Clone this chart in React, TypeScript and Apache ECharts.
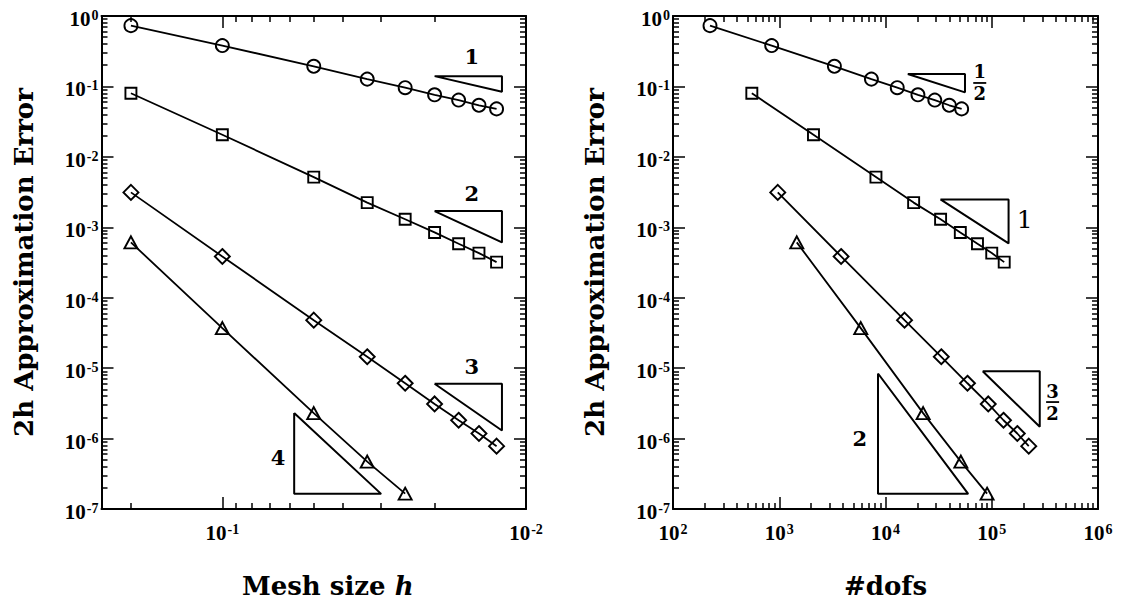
import React, { useEffect, useRef } from "react";
import * as echarts from "echarts";

// ---------- data ----------
const meshSizes = [0.2, 0.1, 0.05, 0.033333, 0.025, 0.02, 0.0166667, 0.0142857, 0.0125];
const meshSizesP4 = [0.2, 0.1, 0.05, 0.033333, 0.025];

const errCircle = [0.73, 0.38, 0.193, 0.127, 0.096, 0.076, 0.064, 0.054, 0.048];
const errSquare = [0.08, 0.0206, 0.00516, 0.00224, 0.0013, 0.000845, 0.000583, 0.00043, 0.00032];
const errDiamond = [0.00313, 0.000385, 4.8e-5, 1.45e-5, 6.1e-6, 3.1e-6, 1.82e-6, 1.18e-6, 7.8e-7];
const errTriangle = [0.00061, 3.7e-5, 2.3e-6, 4.7e-7, 1.65e-7];

const dofsCircle = [223, 849, 3304, 7370, 12900, 20200, 29100, 39800, 52100];
const dofsSquare = [552, 2100, 8130, 18400, 33000, 50600, 73400, 100000, 131000];
const dofsDiamond = [968, 3820, 15100, 33500, 59100, 92700, 129000, 174000, 223000];
const dofsTriangle = [1462, 5850, 22600, 51200, 90400];

// slope triangles (data coordinates)
const slopeLeft1 = [[0.02, 0.14], [0.012, 0.14], [0.012, 0.084], [0.02, 0.14]];
const slopeLeft2 = [[0.02, 0.0017], [0.012, 0.0017], [0.012, 0.00061], [0.02, 0.0017]];
const slopeLeft3 = [[0.02, 6e-6], [0.012, 6e-6], [0.012, 1.3e-6], [0.02, 6e-6]];
const slopeLeft4 = [[0.058, 2.3e-6], [0.058, 1.64e-7], [0.03, 1.64e-7], [0.058, 2.3e-6]];

const slopeRight1 = [[16200, 0.15], [56000, 0.15], [56000, 0.0824], [16200, 0.15]];
const slopeRight2 = [[32900, 0.00249], [144000, 0.00249], [144000, 0.00059], [32900, 0.00249]];
const slopeRight3 = [[82200, 9.06e-6], [283000, 9.06e-6], [283000, 1.47e-6], [82200, 9.06e-6]];
const slopeRight4 = [[8500, 8.4e-6], [8500, 1.64e-7], [60000, 1.64e-7], [8500, 8.4e-6]];

const slopeLabelPosLeft = [[0.01507, 0.27], [0.01507, 0.00297], [0.01507, 1.07e-5], [0.0656, 5.3e-7]];
const slopeLabelTextLeft = ["1", "2", "3", "4"];
const slopeLabelPosRight = [[77100, 0.112], [204000, 0.00131], [374000, 3.3e-6], [5730, 9.9e-7]];
const slopeLabelTextRight = ["1/2", "1", "3/2", "2"];

// ticks
const errMajorTicks = [1, 0.1, 0.01, 1e-3, 1e-4, 1e-5, 1e-6, 1e-7];
const errMinorMultipliers = [2, 3, 4, 5, 6, 7, 8, 9];
const errMinorDecades = [1e-7, 1e-6, 1e-5, 1e-4, 1e-3, 1e-2, 1e-1];
const meshMajorTicks = [0.1, 0.01];
const meshMinorTicks = [0.2, 0.09, 0.08, 0.07, 0.06, 0.05, 0.04, 0.03, 0.02];
const dofsMajorTicks = [100, 1000, 10000, 100000, 1000000];
const dofsMinorDecades = [100, 1000, 10000, 100000];

const errMinorTicks: number[] = [];
errMinorDecades.forEach((d) => errMinorMultipliers.forEach((m) => errMinorTicks.push(m * d)));
const dofsMinorTicks: number[] = [];
dofsMinorDecades.forEach((d) => errMinorMultipliers.forEach((m) => dofsMinorTicks.push(m * d)));

const zip = (xs: number[], ys: number[]) => xs.map((x, i) => [x, ys[i]]);

const TICK_FONT = "Liberation Serif";
const TITLE_FONT = "DejaVu Serif";

const powLabel = (v: number) => {
  const e = Math.round(Math.log10(v));
  return `{base|10}{sup|${e}}`;
};
const tickRich = {
  base: { fontFamily: TICK_FONT, fontWeight: "bold", fontSize: 21, lineHeight: 21, color: "#000", verticalAlign: "bottom" },
  sup: { fontFamily: TICK_FONT, fontWeight: "bold", fontSize: 14, lineHeight: 14, color: "#000", verticalAlign: "top", padding: [0, 0, 12, 1] },
};

const MAJOR_LEN = 12;
const MINOR_LEN = 6;
const FRAME_W = 2;
const TICK_W = 1.5;

function axisPair(
  gridIndex: number,
  pos: string,
  common: any,
  majors: number[],
  minors: number[],
  withLabels: boolean,
  labelMargin: number,
  labelPadding: number[]
) {
  const major = {
    ...common,
    gridIndex,
    position: pos,
    axisLine: { show: true, onZero: false, lineStyle: { color: "#000", width: FRAME_W } },
    axisTick: { show: true, inside: true, length: MAJOR_LEN, customValues: majors, lineStyle: { color: "#000", width: TICK_W } },
    axisLabel: withLabels
      ? {
          show: true,
          customValues: majors,
          formatter: powLabel,
          rich: tickRich,
          color: "#000",
          margin: labelMargin,
          padding: labelPadding,
        }
      : { show: false },
    splitLine: { show: false },
    minorTick: { show: false },
  };
  const minor = {
    ...common,
    gridIndex,
    position: pos,
    name: "",
    axisLine: { show: false, onZero: false },
    axisTick: { show: true, inside: true, length: MINOR_LEN, customValues: minors, lineStyle: { color: "#000", width: TICK_W } },
    axisLabel: { show: false },
    splitLine: { show: false },
  };
  return [major, minor];
}

function dataSeries(xIdx: number, yIdx: number, xs: number[], ys: number[], symbol: string, size: any) {
  return {
    type: "line",
    xAxisIndex: xIdx,
    yAxisIndex: yIdx,
    data: zip(xs, ys),
    symbol,
    symbolSize: size,
    showSymbol: true,
    lineStyle: { color: "#000", width: 1.8 },
    itemStyle: { color: "rgba(255,255,255,0)", borderColor: "#000", borderWidth: 1.9 },
    emphasis: { disabled: true },
    silent: true,
    z: 3,
  };
}

function slopeSeries(xIdx: number, yIdx: number, pts: number[][]) {
  return {
    type: "line",
    xAxisIndex: xIdx,
    yAxisIndex: yIdx,
    data: pts,
    symbol: "none",
    lineStyle: { color: "#000", width: 2 },
    emphasis: { disabled: true },
    silent: true,
    z: 2,
  };
}

function textEl(text: string, x: number, y: number, size: number, weight: string) {
  return {
    type: "text",
    x,
    y,
    silent: true,
    z: 10,
    style: {
      text,
      fill: "#000",
      fontFamily: TITLE_FONT,
      fontWeight: weight,
      fontSize: size,
      align: "center",
      verticalAlign: "middle",
      textAlign: "center",
      textVerticalAlign: "middle",
    },
  };
}

function slopeLabelGraphics(chart: any, seriesIndex: number, pos: number[][], texts: string[], regularIdx: number[]) {
  const out: any[] = [];
  pos.forEach((p, i) => {
    const px = chart.convertToPixel({ seriesIndex }, p);
    if (!px) return;
    const [x, y] = px;
    const t = texts[i];
    if (t.includes("/")) {
      const [a, b] = t.split("/");
      out.push(textEl(a, x, y - 11, 18, "bold"));
      out.push({
        type: "line",
        silent: true,
        z: 10,
        shape: { x1: x - 6.5, y1: y, x2: x + 6.5, y2: y },
        style: { stroke: "#000", lineWidth: 1.8 },
      });
      out.push(textEl(b, x, y + 11, 18, "bold"));
    } else if (regularIdx.includes(i)) {
      out.push(textEl(t, x, y, 25, "normal"));
    } else {
      out.push(textEl(t, x, y, 21, "bold"));
    }
  });
  return out;
}

export default function App() {
  const ref = useRef<HTMLDivElement>(null);
  useEffect(() => {
    if (!ref.current) return;
    const chart = echarts.init(ref.current, null, { renderer: "svg" });

    const leftX = { type: "log", logBase: 10, min: 0.01, max: 0.25, inverse: true };
    const rightX = { type: "log", logBase: 10, min: 100, max: 1000000 };
    const yCommon = { type: "log", logBase: 10, min: 1e-7, max: 1 };

    const titleStyle = { fontFamily: TITLE_FONT, fontWeight: "bold", fontSize: 26, color: "#000" };

    const xAxes = [
      ...axisPair(0, "bottom", {
        ...leftX,
        name: "Mesh size {i|h}",
        nameLocation: "middle",
        nameGap: 64,
        nameTextStyle: {
          ...titleStyle,
          padding: [0, 0, 0, 28],
          rich: { i: { ...titleStyle, fontStyle: "italic", fontWeight: "bold" } },
        },
      }, meshMajorTicks, meshMinorTicks, true, 13, [0, 0, 0, 0]),
      ...axisPair(0, "top", leftX, meshMajorTicks, meshMinorTicks, false, 0, [0, 0, 0, 0]),
      ...axisPair(1, "bottom", {
        ...rightX,
        name: "#dofs",
        nameLocation: "middle",
        nameGap: 64,
        nameTextStyle: titleStyle,
      }, dofsMajorTicks, dofsMinorTicks, true, 13, [0, 0, 0, 0]),
      ...axisPair(1, "top", rightX, dofsMajorTicks, dofsMinorTicks, false, 0, [0, 0, 0, 0]),
    ];
    const yName = {
      name: "2h Approximation Error",
      nameLocation: "middle",
      nameRotate: 90,
      nameGap: 65,
      nameTextStyle: titleStyle,
    };
    const yAxes = [
      ...axisPair(0, "left", { ...yCommon, ...yName }, errMajorTicks, errMinorTicks, true, 3, [6, 0, 0, 0]),
      ...axisPair(0, "right", yCommon, errMajorTicks, errMinorTicks, false, 0, [0, 0, 0, 0]),
      ...axisPair(1, "left", { ...yCommon, ...yName, nameGap: 65 }, errMajorTicks, errMinorTicks, true, 3, [6, 0, 0, 0]),
      ...axisPair(1, "right", yCommon, errMajorTicks, errMinorTicks, false, 0, [0, 0, 0, 0]),
    ];

    const series = [
      dataSeries(0, 0, meshSizes, errCircle, "circle", 13),
      dataSeries(0, 0, meshSizes, errSquare, "rect", 11),
      dataSeries(0, 0, meshSizes, errDiamond, "diamond", 15),
      dataSeries(0, 0, meshSizesP4, errTriangle, "triangle", [13, 12]),
      slopeSeries(0, 0, slopeLeft1),
      slopeSeries(0, 0, slopeLeft2),
      slopeSeries(0, 0, slopeLeft3),
      slopeSeries(0, 0, slopeLeft4),
      dataSeries(4, 4, dofsCircle, errCircle, "circle", 13),
      dataSeries(4, 4, dofsSquare, errSquare, "rect", 11),
      dataSeries(4, 4, dofsDiamond, errDiamond, "diamond", 15),
      dataSeries(4, 4, dofsTriangle, errTriangle, "triangle", [13, 12]),
      slopeSeries(4, 4, slopeRight1),
      slopeSeries(4, 4, slopeRight2),
      slopeSeries(4, 4, slopeRight3),
      slopeSeries(4, 4, slopeRight4),
    ];

    chart.setOption({
      animation: false,
      backgroundColor: "#fff",
      grid: [
        { left: 101.5, top: 16, width: 424.5, height: 493, containLabel: false },
        { left: 673, top: 16, width: 425, height: 493, containLabel: false },
      ],
      xAxis: xAxes,
      yAxis: yAxes,
      series,
    });

    const graphics = [
      ...slopeLabelGraphics(chart, 4, slopeLabelPosLeft, slopeLabelTextLeft, []),
      ...slopeLabelGraphics(chart, 12, slopeLabelPosRight, slopeLabelTextRight, [1]),
    ];
    chart.setOption({ graphic: graphics });

    return () => chart.dispose();
  }, []);
  return (
    <div
      ref={ref}
      style={{ position: "fixed", left: 0, top: 0, width: 1121, height: 610, background: "#fff" }}
    />
  );
}
